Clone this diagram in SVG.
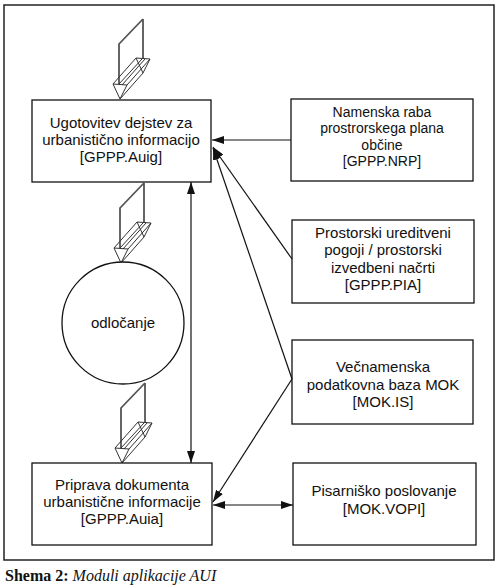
<svg xmlns="http://www.w3.org/2000/svg" width="503" height="586" viewBox="0 0 503 586">
<style>
.box{fill:#fff;stroke:#111;stroke-width:1.3}
.t{font-family:"Liberation Sans",Arial,sans-serif;font-size:15px;fill:#111;text-anchor:middle}
.s{font-size:14px}
.con{fill:none;stroke:#111;stroke-width:1.2}
.ha{fill:none;stroke:#333;stroke-width:1}
.sh{fill:none;stroke:#555;stroke-width:1.8}
</style>
<defs>
<marker id="ah" viewBox="0 0 12 8" refX="12" refY="4" markerWidth="12" markerHeight="8" markerUnits="userSpaceOnUse" orient="auto-start-reverse">
<path d="M0,0 L12,4 L0,8 z" fill="#111"/>
</marker>
<g id="hollow">
<path class="sh" d="M23,-80 L23,-40 M23,-80 L-1,-55 L-1,-15"/>
<path class="ha" d="M-7,-15 L7,-14 L0,0 Z M16,-41 L30,-40 L23,-26 Z M-7,-15 L16,-41 M7,-14 L30,-40 M0,0 L23,-26 M-1,-15 L22,-40 M2,-14 L25,-40"/>
</g>
</defs>
<rect x="4" y="5" width="490" height="555" fill="none" stroke="#222" stroke-width="1.5"/>
<g id="hollow-arrows">
<use href="#hollow" transform="translate(120,99)"/>
<use href="#hollow" transform="translate(121,263)"/>
<use href="#hollow" transform="translate(122,463)"/>
</g>
<g id="n-auig">
<rect class="box" x="32" y="100" width="179" height="82"/>
<text class="t" x="121" y="128">Ugotovitev dejstev za</text>
<text class="t" x="121" y="145">urbanistično informacijo</text>
<text class="t" x="121" y="162">[GPPP.Auig]</text>
</g>
<g id="n-odl">
<circle cx="123" cy="323" r="61" fill="#fff" stroke="#111" stroke-width="1.3"/>
<text class="t" x="123" y="328">odločanje</text>
</g>
<g id="n-auia">
<rect class="box" x="32" y="463" width="180" height="82"/>
<text class="t" x="122" y="490">Priprava dokumenta</text>
<text class="t" x="122" y="507">urbanistične informacije</text>
<text class="t" x="122" y="524">[GPPP.Auia]</text>
</g>
<g id="n-nrp">
<rect class="box" x="291" y="99" width="182" height="82"/>
<text class="t s" x="382" y="117">Namenska raba</text>
<text class="t s" x="382" y="133.3">prostrorskega plana</text>
<text class="t s" x="382" y="149.6">občine</text>
<text class="t s" x="382" y="166">[GPPP.NRP]</text>
</g>
<g id="n-pia">
<rect class="box" x="292" y="220" width="182" height="83"/>
<text class="t" x="383" y="238">Prostorski ureditveni</text>
<text class="t" x="383" y="255">pogoji / prostorski</text>
<text class="t" x="383" y="273">izvedbeni načrti</text>
<text class="t" x="383" y="290">[GPPP.PIA]</text>
</g>
<g id="n-mok">
<rect class="box" x="292" y="340" width="181" height="84"/>
<text class="t" x="383" y="372">Večnamenska</text>
<text class="t" x="383" y="390">podatkovna baza MOK</text>
<text class="t" x="383" y="407">[MOK.IS]</text>
</g>
<g id="n-vopi">
<rect class="box" x="293" y="463" width="183" height="82"/>
<text class="t" x="384" y="496">Pisarniško poslovanje</text>
<text class="t" x="384" y="514">[MOK.VOPI]</text>
</g>
<g id="connectors">
<line class="con" x1="291" y1="140" x2="212" y2="140" marker-end="url(#ah)"/>
<line class="con" x1="292" y1="259" x2="213" y2="147" marker-end="url(#ah)"/>
<line class="con" x1="292" y1="379" x2="213" y2="148" marker-end="url(#ah)"/>
<line class="con" x1="292" y1="379" x2="213" y2="502" marker-end="url(#ah)"/>
<line class="con" x1="191" y1="182" x2="191" y2="463" marker-start="url(#ah)" marker-end="url(#ah)"/>
<line class="con" x1="213" y1="505" x2="293" y2="505" marker-start="url(#ah)" marker-end="url(#ah)"/>
</g>
<text x="5" y="581" style="font-family:'Liberation Serif','Times New Roman',serif;font-size:16px;fill:#111"><tspan font-weight="bold">Shema 2:</tspan><tspan font-style="italic"> Moduli aplikacije AUI</tspan></text>
</svg>
